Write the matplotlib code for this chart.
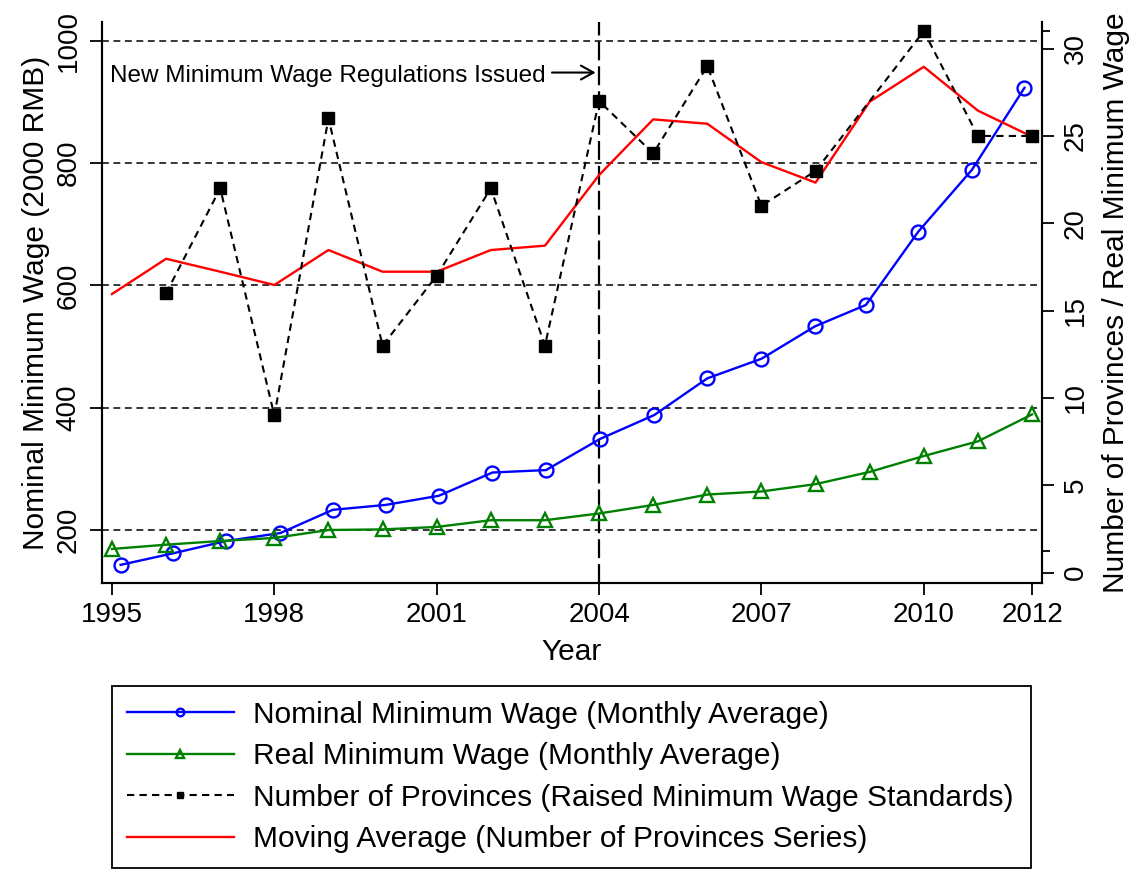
import matplotlib
matplotlib.use("Agg")
import matplotlib.pyplot as plt

plt.rcParams['font.family'] = ['Liberation Sans', 'DejaVu Sans']

years = list(range(1995, 2013))
# nominal markers sit slightly off the year ticks in the original figure
nominal_x = [1995.16, 1996.135, 1997.11, 1998.11, 1999.08, 2000.055, 2001.04, 2002.03, 2003.02,
             2004.02, 2005.02, 2006.0, 2007.0, 2007.99, 2008.93, 2009.90, 2010.89, 2011.86]
nominal = [143, 162, 182, 195, 233, 241, 256, 294, 298, 349, 388, 448, 480, 533, 568, 688, 789, 923]
real = [169, 176, 182, 187, 200, 201, 205, 216, 216, 227, 241, 258, 263, 275, 295, 321, 345, 389]

# no value for 1995 and 2009
prov_years = [1996, 1997, 1998, 1999, 2000, 2001, 2002, 2003, 2004, 2005, 2006, 2007, 2008, 2010, 2011, 2012]
provinces = [16, 22, 9, 26, 13, 17, 22, 13, 27, 24, 29, 21, 23, 31, 25, 25]
moving_avg = [15.95, 17.97, 17.23, 16.47, 18.47, 17.23, 17.23, 18.47, 18.72, 22.76,
              25.95, 25.7, 23.5, 22.33, 26.96, 28.96, 26.45, 24.96]

xticks = [1995, 1998, 2001, 2004, 2007, 2010, 2012]
left_ticks = [200, 400, 600, 800, 1000]
right_ticks = [0, 5, 10, 15, 20, 25, 30]
right_minor = [1.26, 31]

event_year = 2004
event_text = "New Minimum Wage Regulations Issued"
labels = ["Nominal Minimum Wage (Monthly Average)",
          "Real Minimum Wage (Monthly Average)",
          "Number of Provinces (Raised Minimum Wage Standards)",
          "Moving Average (Number of Provinces Series)"]

fig = plt.figure(figsize=(11.3, 8.69), dpi=100)
ax = fig.add_axes([0.0900, 0.3288, 0.8324, 0.6462])
ax2 = ax.twinx()

# left axis: wages
ax.set_xlim(1994.81, 2012.19)
ax.set_ylim(112.9, 1031.1)
ax.set_yticks(left_ticks)
ax.set_xticks(xticks)
for t in left_ticks:
    ax.axhline(t, color='black', lw=1.1, ls=(0, (4.5, 3)), zorder=1)
ax.axvline(event_year, color='black', lw=1.6, ls=(0, (8.5, 2.7)), zorder=1)

h1, = ax.plot(nominal_x, nominal, color='#0000ff', lw=1.7, marker='o', ms=10,
              mfc='none', mec='#0000ff', mew=1.7, zorder=3)
h2, = ax.plot(years, real, color='#008000', lw=1.7, marker='^', ms=10,
              mfc='none', mec='#008000', mew=1.7, zorder=3)

ax.text(1994.97, 932, event_text, fontsize=17.5, ha='left', va='baseline')
ax.annotate('', xy=(event_year, 948), xytext=(2003.13, 948),
            arrowprops=dict(arrowstyle='->,head_length=0.45,head_width=0.25',
                            mutation_scale=20, lw=1.5, color='black',
                            shrinkA=0, shrinkB=2.5))

# right axis: provinces
ax2.set_ylim(-0.607, 31.54)
ax2.set_yticks(right_ticks)
ax2.set_yticks(right_minor, minor=True)
h3, = ax2.plot(prov_years, provinces, color='black', lw=1.5, ls=(0, (3.5, 2.5)),
               marker='s', ms=8, mfc='black', mec='black', zorder=3)
h4, = ax2.plot(years, moving_avg, color='#ff0000', lw=1.7, zorder=2)

for a in (ax, ax2):
    a.spines['top'].set_visible(False)
    for s in a.spines.values():
        s.set_linewidth(1.5)
ax.tick_params(axis='both', direction='out', length=8.5, width=1.3, labelsize=20, pad=5)
ax.tick_params(axis='y', labelrotation=90, pad=6)
for lab in ax.get_yticklabels():
    lab.set_va('center')
ax2.tick_params(axis='y', which='major', direction='out', length=8.5, width=1.3,
                labelsize=20, labelrotation=90, pad=6)
ax2.tick_params(axis='y', which='minor', direction='out', length=5.5, width=1.3)
for lab in ax2.get_yticklabels():
    lab.set_va('center')

ax.set_xlabel("Year", fontsize=21.5, labelpad=7)
ax.set_ylabel("Nominal Minimum Wage (2000 RMB)", fontsize=21.5, labelpad=4)
ax2.set_ylabel("Number of Provinces / Real Minimum Wage", fontsize=21.5, labelpad=10)

leg = fig.legend([h1, h2, h3, h4], labels, loc='upper left', mode='expand',
                 bbox_to_anchor=(0.0991, 0.0035, 0.8133, 0.2071), ncol=1,
                 fontsize=21.5, handlelength=3.58, handletextpad=0.64,
                 borderpad=0.5, labelspacing=0.45, markerscale=0.55,
                 fancybox=False, framealpha=1, edgecolor='black', borderaxespad=0)
leg.get_frame().set_linewidth(1.3)

fig.savefig("out.png", dpi=100)
